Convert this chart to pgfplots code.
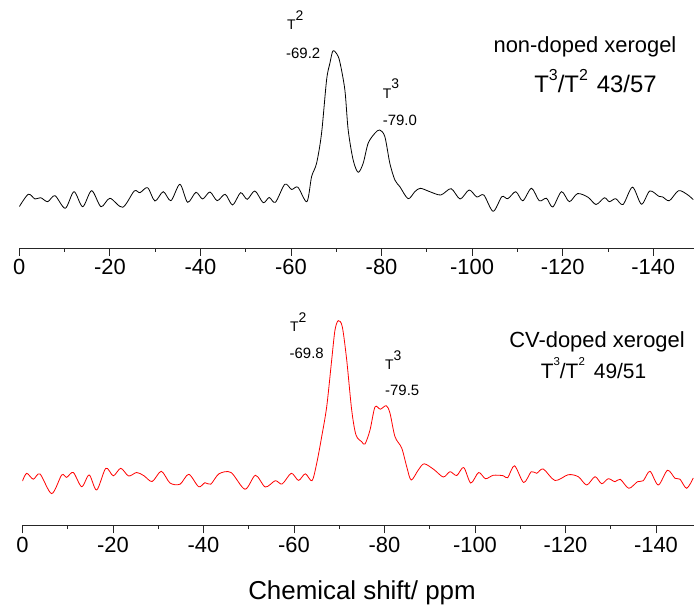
\documentclass[border=0pt]{standalone}
\usepackage{pgfplots}
\pgfplotsset{compat=1.18}
\usepackage{fontspec}
\setmainfont{Liberation Sans}

\pgfplotstableread{
x y
0 41.6
-1.99 54.0
-3.47 49.3
-4.72 50.6
-6.27 46.6
-7.88 52.6
-10.15 40.0
-12.08 56.6
-14.0 41.6
-15.98 57.6
-18.04 41.6
-20.02 50.0
-22.83 41.0
-25.39 57.3
-26.64 55.6
-28.34 60.6
-29.96 47.3
-31.79 56.6
-33.49 47.6
-35.47 64.0
-37.17 46.0
-39.01 56.0
-40.49 49.3
-42.10 56.3
-43.71 47.6
-45.47 54.0
-47.11 43.3
-48.87 55.6
-50.33 49.0
-52.03 57.3
-53.86 45.6
-55.19 50.8
-56.56 46.0
-58.65 64.1
-60.13 58.8
-61.52 61.1
-63.51 46.6
-64.55 71.6
-65.65 85.0
-66.75 115.0
-67.86 168.3
-68.59 185.0
-69.25 197.3
-70.13 194.3
-70.79 186.3
-71.90 158.3
-72.63 118.3
-73.73 88.3
-74.83 76.0
-75.94 85.0
-77.04 105.0
-78.52 115.0
-79.6 118.3
-80.73 111.6
-81.83 85.0
-82.94 68.3
-84.04 61.6
-85.87 49.6
-87.35 56.6
-88.57 60.0
-90.66 56.6
-93.09 53.3
-95.36 59.6
-97.35 49.3
-99.34 58.3
-101.04 51.3
-102.58 53.3
-104.64 37.0
-106.56 51.6
-107.88 49.6
-109.65 56.6
-111.19 47.5
-113.11 60.0
-114.83 47.5
-116.42 50.0
-117.81 41.3
-119.74 56.6
-121.46 46.6
-123.29 54.7
-125.61 51.0
-127.37 43.8
-129.21 50.5
-130.31 46.6
-131.72 49.6
-133.33 43.8
-135.41 61.1
-137.40 44.1
-139.23 57.3
-141.22 52.0
-142.10 51.3
-143.56 47.6
-145.58 57.6
-147.5 53.8
-148.83 48.7
}\nondoped

\pgfplotstableread{
x y
0 44.7
-0.93 52.4
-2.39 46.5
-3.87 51.7
-6.45 32.1
-8.66 50.7
-9.77 48.4
-11.23 53.2
-13.08 39.0
-14.74 50.7
-16.40 35.7
-18.41 57.4
-20.07 49.9
-21.72 57.4
-23.45 49.7
-25.24 53.2
-26.85 49.9
-28.66 44.2
-30.67 54.4
-32.60 42.7
-34.81 41.5
-36.75 51.4
-38.92 39.0
-40.33 43.0
-41.61 41.5
-43.43 51.9
-46.08 53.2
-49.17 36.5
-51.49 50.4
-53.66 38.7
-55.87 45.0
-57.39 41.7
-59.40 52.4
-61.0 45.3
-62.50 51.9
-63.98 45.0
-65.02 62.4
-66.12 89.0
-67.23 119.0
-68.33 165.7
-69.06 195.7
-69.79 205.0
-70.67 199.0
-71.65 165.7
-72.75 115.7
-73.70 90.7
-74.96 84.0
-75.69 81.7
-76.80 95.7
-77.90 118.7
-79.07 116.5
-80.40 120.0
-81.22 112.4
-82.32 89.0
-83.80 77.7
-84.91 59.0
-85.90 45.7
-87.47 55.7
-88.77 61.9
-90.94 56.1
-93.0 48.7
-94.48 54.0
-95.96 50.2
-97.50 58.2
-99.07 42.7
-100.80 53.2
-102.32 47.0
-104.04 50.4
-106.25 50.0
-107.23 48.0
-108.73 59.9
-110.76 43.2
-112.42 54.0
-113.63 52.4
-115.09 56.7
-117.68 45.2
-120.62 51.0
-122.83 49.0
-124.69 40.7
-126.52 49.0
-128.0 42.0
-129.46 47.0
-130.94 44.0
-132.11 46.4
-133.99 37.4
-135.91 44.0
-137.19 45.0
-138.67 54.4
-140.51 40.7
-142.54 55.4
-144.20 47.4
-145.30 46.5
-146.78 37.4
-148.24 47.7
}\cvdoped

\pgfplotsset{
  nmrax/.style={
    scale only axis,
    axis x line=bottom,
    axis y line=none,
    x dir=reverse,
    xmax=0,
    ymin=0,
    xtick={0,-20,-40,-60,-80,-100,-120,-140},
    xticklabels={0,-20,-40,-60,-80,-100,-120,-140},
    minor x tick num=1,
    tick align=outside,
    major tick length=7.7bp,
    minor tick length=3.5bp,
    every tick/.style={black!85, line width=0.9bp},
    axis line style={black!85, line width=0.9bp, -},
    xticklabel style={font=\fontsize{22}{22}\selectfont},
  }
}

\begin{document}
\begin{tikzpicture}[x=1bp,y=1bp]
\path[use as bounding box] (0,0) rectangle (694,611);

\begin{axis}[nmrax, at={(19.3bp,362.7bp)}, anchor=south west,
  width=674.7bp, height=248bp, xmin=-149, ymax=248]
\addplot[black, line width=0.8bp, smooth, tension=0.5, no marks] table[x=x,y=y] {\nondoped};
\end{axis}

\begin{axis}[nmrax, at={(22.5bp,85.3bp)}, anchor=south west,
  width=671.5bp, height=250bp, xmin=-148.4, ymax=250]
\addplot[red, line width=0.8bp, smooth, tension=0.5, no marks] table[x=x,y=y] {\cvdoped};
\end{axis}

% top annotations
\node[anchor=base west, inner sep=0pt, font=\fontsize{14}{14}\selectfont] at (287,581) {T\raisebox{9.5bp}{2}};
\node[anchor=base west, inner sep=0pt, font=\fontsize{15}{15}\selectfont] at (286,552.5) {-69.2};
\node[anchor=base west, inner sep=0pt, font=\fontsize{14}{14}\selectfont] at (382.7,512.7) {T\raisebox{9.5bp}{3}};
\node[anchor=base west, inner sep=0pt, font=\fontsize{15}{15}\selectfont] at (382.7,485) {-79.0};
\node[anchor=base, inner sep=0pt, font=\fontsize{22}{22}\selectfont] at (585,558) {non-doped xerogel};
\node[anchor=base, inner sep=0pt, font=\fontsize{24}{24}\selectfont] at (595.5,518.3)
  {T\raisebox{12bp}{\fontsize{16}{16}\selectfont 3}/T\raisebox{12bp}{\fontsize{16}{16}\selectfont 2}\hspace{9bp}43/57};

% bottom annotations
\node[anchor=base west, inner sep=0pt, font=\fontsize{14}{14}\selectfont] at (290,279.3) {T\raisebox{9.5bp}{2}};
\node[anchor=base west, inner sep=0pt, font=\fontsize{15}{15}\selectfont] at (289.5,252.7) {-69.8};
\node[anchor=base west, inner sep=0pt, font=\fontsize{14}{14}\selectfont] at (385,241) {T\raisebox{9.5bp}{3}};
\node[anchor=base west, inner sep=0pt, font=\fontsize{15}{15}\selectfont] at (385,215) {-79.5};
\node[anchor=base, inner sep=0pt, font=\fontsize{22}{22}\selectfont] at (597,263.5) {CV-doped xerogel};
\node[anchor=base, inner sep=0pt, font=\fontsize{21}{21}\selectfont] at (593.5,232.7)
  {T\raisebox{13bp}{\fontsize{11.5}{11.5}\selectfont 3}/T\raisebox{13bp}{\fontsize{11.5}{11.5}\selectfont 2}\hspace{9bp}49/51};

\node[anchor=base, inner sep=0pt, font=\fontsize{26}{26}\selectfont] at (362,11) {Chemical shift/ ppm};
\end{tikzpicture}
\end{document}
